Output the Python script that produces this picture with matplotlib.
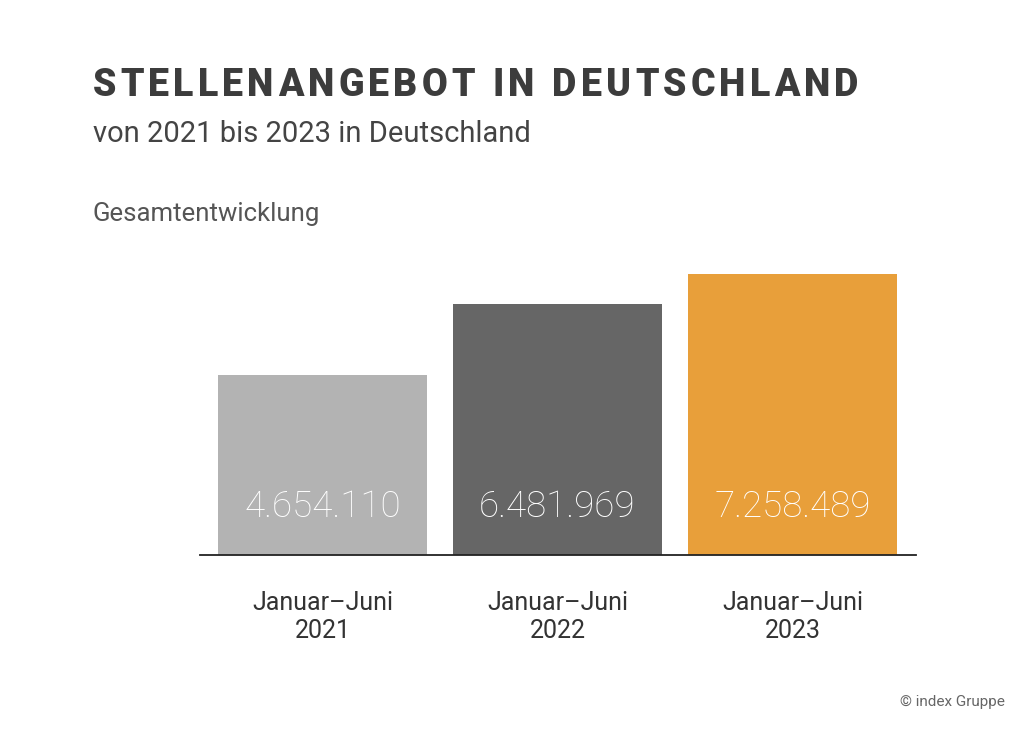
import matplotlib

matplotlib.use("Agg")
import matplotlib.pyplot as plt
import numpy as np

categories = ["Januar–Juni\n2021", "Januar–Juni\n2022", "Januar–Juni\n2023"]
values = [4654110, 6481969, 7258489]
value_labels = ["4.654.110", "6.481.969", "7.258.489"]
bar_colors = ["#b3b3b3", "#666666", "#e89f3a"]

TEXT = "#3c3c3c"

plt.rcParams["font.family"] = ["Roboto", "DejaVu Sans"]


def tracked_text(fig, x_px, y_px, s, tracking_px, **kw):
    """Draw s one glyph at a time, adding tracking_px between glyphs."""
    renderer = fig.canvas.get_renderer()
    x = x_px
    for ch in s:
        t = fig.text(x / 1030, 1 - y_px / 736, ch, ha="left", va="center", **kw)
        w = t.get_window_extent(renderer).width
        if ch == " ":
            w = kw.get("fontsize", 10) * 100 / 72 * 0.25
        x += w + tracking_px


fig = plt.figure(figsize=(10.3, 7.36), dpi=100)
ax = fig.add_axes([200 / 1030, 181 / 736, 716 / 1030, 281 / 736])

x = np.arange(len(values))
ax.bar(x, values, width=0.89, color=bar_colors, linewidth=0)
ax.set_xlim(-0.521, 2.526)
ax.set_ylim(0, max(values))

for xi, v, lab in zip(x, values, value_labels):
    ax.text(xi, 0.17 * max(values), lab, ha="center", va="center",
            color="white", fontsize=26.5, fontweight="light")

ax.set_xticks(x)
ax.set_xticklabels(categories, fontsize=18, color="#333333", linespacing=1.22)
ax.tick_params(axis="x", length=0, pad=26)
ax.set_yticks([])
for side in ["top", "right", "left"]:
    ax.spines[side].set_visible(False)
ax.spines["bottom"].set_color("#222222")
ax.spines["bottom"].set_linewidth(1.3)

tracked_text(fig, 93, 85, "STELLENANGEBOT IN DEUTSCHLAND", 4.2,
             fontsize=27, fontweight="black", color=TEXT)
fig.text(93 / 1030, 1 - 134 / 736, "von 2021 bis 2023 in Deutschland",
         fontsize=21, color="#444444", va="center", ha="left")
fig.text(93 / 1030, 1 - 214 / 736, "Gesamtentwicklung",
         fontsize=18.5, color="#555555", va="center", ha="left")
fig.text(1005 / 1030, 1 - 702 / 736, "© index Gruppe",
         fontsize=11, color="#666666", va="center", ha="right")

fig.savefig("out.png", dpi=100, facecolor="white")
